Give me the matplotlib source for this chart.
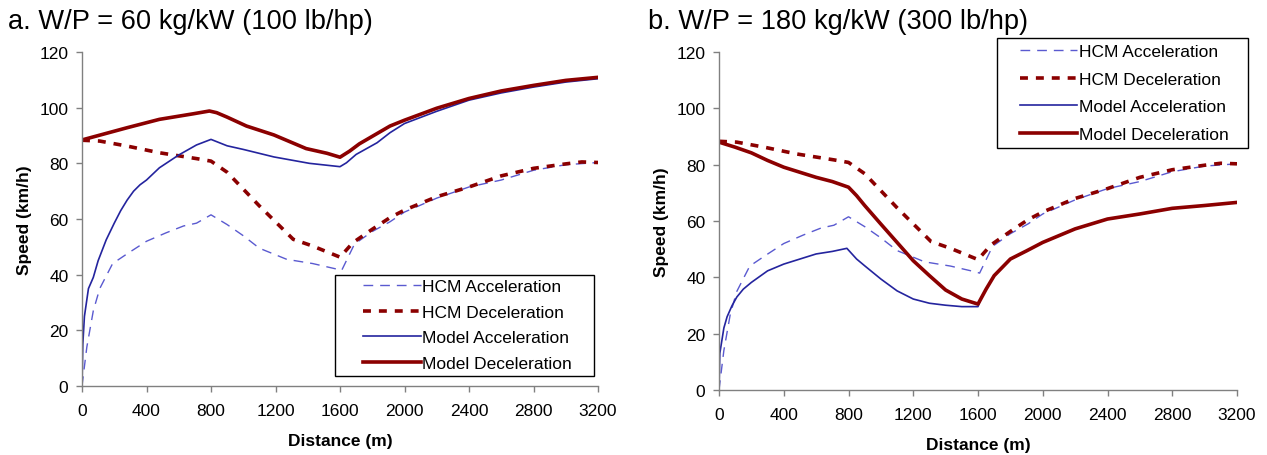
import matplotlib.pyplot as plt
from matplotlib.patches import Rectangle

plt.rcParams['font.family'] = ['Liberation Sans', 'DejaVu Sans']

# HCM curves (same in both panels)
hcm_acc_x = [0, 30, 70, 110, 190, 280, 400, 520, 630, 710, 800, 900, 1000, 1100, 1270, 1430, 1580, 1610,
             1690, 1800, 1910, 2000, 2200, 2400, 2600, 2800, 3000, 3200]
hcm_acc_y = [0, 14, 27, 35, 44, 47.5, 52, 55, 57.5, 58.5, 61.5, 58, 54, 49.5, 45.5, 44, 42, 41.5,
             51, 55.5, 59, 62.5, 67.5, 71.5, 74, 77.5, 79.5, 80.3]

hcm_dec_x = [0, 110, 280, 480, 710, 800, 900, 1100, 1310, 1430, 1600, 1680, 1800, 1910, 2000, 2200,
             2400, 2600, 2800, 3000, 3100, 3200]
hcm_dec_y = [88.3, 88, 86.2, 83.8, 81.7, 80.8, 76.8, 64.7, 52.7, 50.3, 46.3, 51.5, 56.3, 60.5, 63.2, 68,
             71.5, 75.5, 78.2, 79.8, 80.5, 80.3]

# panel a: W/P = 60 kg/kW
a_acc_x = [0, 5, 15, 40, 70, 100, 150, 200, 240, 280, 320, 360, 400, 480, 600, 710, 800, 900, 1000, 1190,
           1410, 1600, 1640, 1700, 1830, 1910, 2000, 2200, 2400, 2600, 2800, 3000, 3200]
a_acc_y = [0, 15, 25, 35, 39, 45, 52.5, 58.5, 63, 66.8, 70, 72.3, 74, 78.4, 83, 86.6, 88.6, 86.3, 85, 82.3,
           80, 78.8, 80.2, 83.2, 87.4, 91, 94.3, 98.7, 102.7, 105.3, 107.4, 109.2, 110.4]

a_dec_x = [0, 280, 480, 690, 790, 835, 900, 1020, 1190, 1390, 1520, 1600, 1660, 1720, 1910, 2000, 2200,
           2400, 2600, 2800, 3000, 3200]
a_dec_y = [88.4, 92.8, 95.8, 97.8, 98.8, 98.2, 96.6, 93.4, 90.2, 85.3, 83.6, 82.2, 84.4, 87, 93.4, 95.5,
           99.8, 103.3, 106, 108, 109.8, 110.9]

# panel b: W/P = 180 kg/kW
b_acc_x = [0, 5, 30, 50, 80, 110, 150, 200, 300, 400, 500, 600, 700, 790, 850, 900, 1000, 1100, 1200, 1300,
           1400, 1500, 1600, 1620, 1650, 1700, 1800, 1900, 2000, 2200, 2400, 2600, 2800, 3000, 3200]
b_acc_y = [0, 13, 22, 26, 29.9, 33, 35.8, 38.2, 42.3, 44.7, 46.5, 48.3, 49.2, 50.3, 46.5, 44.1, 39.4, 35.2,
           32.3, 30.8, 30.1, 29.6, 29.6, 32.8, 35.8, 40.6, 46.5, 49.4, 52.4, 57.2, 60.7, 62.5, 64.5, 65.5, 66.6]

b_dec_x = [0, 100, 200, 300, 400, 500, 600, 700, 800, 850, 900, 1000, 1100, 1200, 1300, 1400, 1500, 1600,
           1650, 1700, 1800, 1900, 2000, 2200, 2400, 2600, 2800, 3000, 3200]
b_dec_y = [88, 86.2, 84.2, 81.5, 79.1, 77.3, 75.5, 74, 72, 69, 65.5, 58.9, 52.4, 45.9, 40.6, 35.5, 32.3,
           30.5, 35.8, 40.6, 46.5, 49.4, 52.4, 57.2, 60.7, 62.5, 64.5, 65.5, 66.6]

titles = ["a. W/P = 60 kg/kW (100 lb/hp)", "b. W/P = 180 kg/kW (300 lb/hp)"]
labels = ["HCM Acceleration", "HCM Deceleration", "Model Acceleration", "Model Deceleration"]

blue = "#24249e"
blue_light = "#5a5ad0"
red = "#8b0000"

fig = plt.figure(figsize=(12.67, 4.56), dpi=100)
ax_a = fig.add_axes([82 / 1267, 1 - 387 / 456, 516 / 1267, 334 / 456])
ax_b = fig.add_axes([719 / 1267, 1 - 391 / 456, 518 / 1267, 338 / 456])


def draw_panel(ax, acc_x, acc_y, dec_x, dec_y):
    ax.plot(hcm_acc_x, hcm_acc_y, color=blue_light, lw=1.0, dashes=(7, 5), label=labels[0])
    ax.plot(hcm_dec_x, hcm_dec_y, color=red, lw=2.6, dashes=(2.2, 2.2), label=labels[1])
    ax.plot(acc_x, acc_y, color=blue, lw=1.2, label=labels[2])
    ax.plot(dec_x, dec_y, color=red, lw=2.6, label=labels[3])
    ax.set_xlim(0, 3200)
    ax.set_ylim(0, 120)
    ax.set_xticks(range(0, 3201, 400))
    ax.set_yticks(range(0, 121, 20))
    for s in ["top", "right"]:
        ax.spines[s].set_visible(False)
    for s in ["left", "bottom"]:
        ax.spines[s].set_color("#808080")
        ax.spines[s].set_linewidth(1.0)
    ax.tick_params(axis="both", direction="out", length=4.3, width=1.0, color="#808080",
                   labelsize=12.5, labelcolor="black")
    ax.tick_params(axis="x", pad=8)
    ax.tick_params(axis="y", pad=5.5)
    ax.set_xlabel("Distance (m)", fontsize=12.5, fontweight="bold", labelpad=11)
    ax.set_ylabel("Speed (km/h)", fontsize=12.5, fontweight="bold", labelpad=5.5)


draw_panel(ax_a, a_acc_x, a_acc_y, a_dec_x, a_dec_y)
draw_panel(ax_b, b_acc_x, b_acc_y, b_dec_x, b_dec_y)

# legend boxes (frame drawn separately to match the padding)
ax_a.add_patch(Rectangle((0.490, 0.030), 0.502, 0.302, transform=ax_a.transAxes, fill=False,
                         edgecolor="black", lw=1.0, clip_on=False, zorder=5))
ax_a.legend(loc="center left", bbox_to_anchor=(0.545, 0.183), frameon=False, fontsize=12.5,
            handlelength=3.3, handletextpad=0.1, labelspacing=0.6, borderpad=0, borderaxespad=0)

ax_b.add_patch(Rectangle((0.537, 0.717), 0.484, 0.324, transform=ax_b.transAxes, fill=False,
                         edgecolor="black", lw=1.0, clip_on=False, zorder=5))
ax_b.legend(loc="center left", bbox_to_anchor=(0.581, 0.879), frameon=False, fontsize=12.5,
            handlelength=3.3, handletextpad=0.1, labelspacing=0.72, borderpad=0, borderaxespad=0)

fig.text(8 / 1267, 1 - 22 / 456, titles[0], fontsize=19.6, va="center", ha="left")
fig.text(648 / 1267, 1 - 22 / 456, titles[1], fontsize=19.6, va="center", ha="left")

plt.savefig("out.png", dpi=100)
